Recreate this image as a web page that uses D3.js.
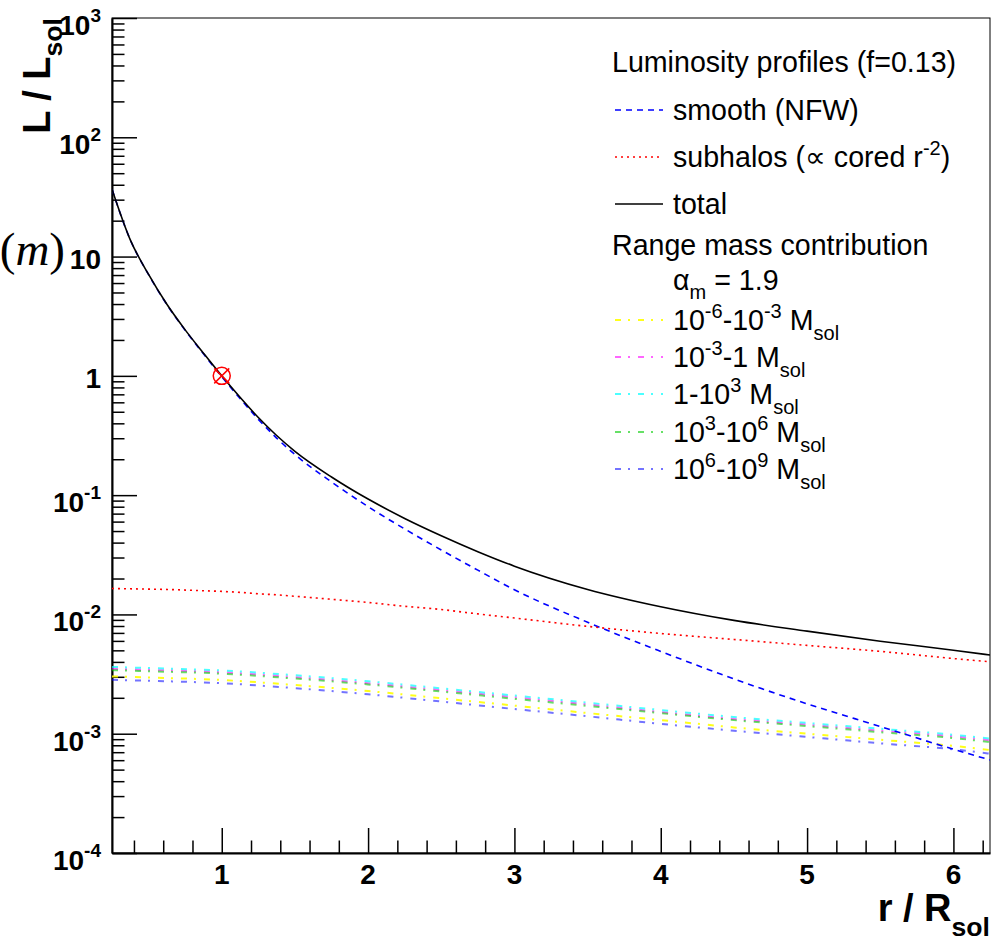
<!DOCTYPE html>
<html>
<head>
<meta charset="utf-8">
<script src="https://cdn.jsdelivr.net/npm/d3@7"></script>
<style>
  body { margin: 0; background: #fff; }
  svg { display: block; font-family: "Liberation Sans", Arial, Helvetica, sans-serif; }
</style>
</head>
<body>
<div id="chart"></div>
<script>
// ---- data ----
const radius     = [0.25, 0.375, 0.5, 0.625, 0.75, 0.875, 1, 1.125, 1.25, 1.375, 1.5, 1.75, 2, 2.25, 2.5, 2.75, 3, 3.5, 4, 4.5, 5, 5.5, 6, 6.25];
const totalLum   = [36.7, 13.8, 7.08, 3.98, 2.43, 1.55, 1.0, 0.661, 0.447, 0.316, 0.233, 0.142, 0.0927, 0.0638, 0.0457, 0.0336, 0.0254, 0.0162, 0.0116, 0.00891, 0.00724, 0.00596, 0.00501, 0.00457];
const smoothLum  = [36.7, 13.8, 7.06, 3.96, 2.41, 1.53, 0.984, 0.646, 0.432, 0.301, 0.219, 0.129, 0.0801, 0.0521, 0.0347, 0.0235, 0.0161, 0.0086, 0.0049, 0.00288, 0.00178, 0.00115, 0.000741, 0.000603];
const subhaloLum = [0.0165, 0.0164, 0.0163, 0.0162, 0.0160, 0.0158, 0.0156, 0.0153, 0.0149, 0.0146, 0.0142, 0.0134, 0.0126, 0.0117, 0.0110, 0.0101, 0.00933, 0.00794, 0.00692, 0.00617, 0.00550, 0.00490, 0.00427, 0.00401];

// mass range contributions
const massRadius = [0.25, 0.5, 1, 1.5, 2, 2.5, 3, 3.5, 4, 4.5, 5, 5.5, 6, 6.25];
const mass6to3 = [0.00302, 0.00296, 0.00282, 0.00256, 0.00228, 0.00198, 0.00172, 0.00149, 0.00130, 0.00113, 0.00100, 0.00089, 0.00079, 0.00073];
const mass3to0 = [0.00350, 0.00343, 0.00327, 0.00298, 0.00265, 0.00232, 0.00202, 0.00176, 0.00152, 0.00133, 0.00119, 0.00106, 0.00095, 0.00088];
const mass0to3 = [0.00363, 0.00355, 0.00339, 0.00309, 0.00275, 0.00240, 0.00209, 0.00182, 0.00158, 0.00138, 0.00123, 0.00110, 0.00098, 0.00091];
const mass3to6 = [0.00341, 0.00334, 0.00319, 0.00290, 0.00259, 0.00226, 0.00196, 0.00171, 0.00149, 0.00130, 0.00116, 0.00103, 0.00092, 0.00085];
const mass6to9 = [0.00283, 0.00278, 0.00265, 0.00241, 0.00214, 0.00186, 0.00161, 0.00140, 0.00121, 0.00106, 0.00094, 0.00083, 0.00074, 0.00068];

const refPoint = [1, 1];

// ticks and labels
const xTicks = [1, 2, 3, 4, 5, 6];
const yTicks = [1e-4, 1e-3, 1e-2, 1e-1, 1, 10, 100, 1000];
const yTickBase = ["10", "10", "10", "10", "1", "10", "10", "10"];
const yTickExp  = ["-4", "-3", "-2", "-1", "", "", "2", "3"];

const legendTitle  = "Luminosity profiles (f=0.13)";
const profileNames = ["smooth (NFW)", "subhalos (\u221d cored r^{-2})", "total"];
const massTitle    = "Range mass contribution";
const massAlpha    = "\u03b1_{m} = 1.9";
const massNames    = ["10^{-6}-10^{-3} M_{sol}", "10^{-3}-1 M_{sol}", "1-10^{3} M_{sol}", "10^{3}-10^{6} M_{sol}", "10^{6}-10^{9} M_{sol}"];

// ---- styles ----
const profileColors = ["#0000ff", "#ff0000", "#000000"];
const profileDash   = ["6,5", "2,4", null];
const massColors    = ["#ffff00", "#ff00ff", "#00ffff", "#00cc00", "#0000ff"];
const massOpacity   = [0.9, 0.6, 0.7, 0.6, 0.55];

// Set the dimensions and margins of the graph
const margin = {top: 18, right: 6, bottom: 90, left: 112},
    width = 996 - margin.left - margin.right,
    height = 943 - margin.top - margin.bottom;

const root = d3.select("#chart")
  .append("svg")
    .attr("width", width + margin.left + margin.right)
    .attr("height", height + margin.top + margin.bottom);

const svg = root.append("g")
    .attr("transform", `translate(${margin.left},${margin.top})`);

// write ROOT-like text with ^{..} and _{..}
function richText(sel, str, size, supScale, supRise, subDrop) {
  const parts = str.split(/(\^\{[^}]*\}|_\{[^}]*\})/).filter(p => p.length);
  let offset = 0;
  parts.forEach(p => {
    let target = 0, fs = size, txt = p;
    if (p.startsWith("^{")) { target = -supRise; fs = size * supScale; txt = p.slice(2, -1); }
    else if (p.startsWith("_{")) { target = subDrop; fs = size * supScale; txt = p.slice(2, -1); }
    sel.append("tspan")
      .attr("dy", target - offset)
      .style("font-size", fs + "px")
      .text(txt);
    offset = target;
  });
}

// Scales
const x = d3.scaleLinear()
  .domain([0.25, 6.25])
  .range([0, width]);

const y = d3.scaleLog()
  .domain([1e-4, 1e3])
  .range([height, 0]);

// Frame
svg.append("rect")
  .attr("x", 0).attr("y", 0)
  .attr("width", width).attr("height", height)
  .attr("fill", "none")
  .attr("stroke", "#000")
  .attr("stroke-width", 1);

// Add X axis (ticks pointing inward)
const xMinor = d3.range(0.4, 6.25, 0.2).filter(v => Math.abs(v - Math.round(v)) > 0.01);
svg.append("g")
  .attr("transform", `translate(0, ${height})`)
  .call(d3.axisBottom(x).tickValues(xMinor).tickSize(-12.5).tickSizeOuter(0).tickFormat(""))
  .call(g => g.selectAll("line").attr("stroke-width", 1.5))
  .call(g => g.select(".domain").attr("stroke-width", 2));
svg.append("g")
  .attr("transform", `translate(0, ${height})`)
  .call(d3.axisBottom(x).tickValues(xTicks).tickSize(-25).tickSizeOuter(0).tickFormat(""))
  .call(g => g.selectAll("line").attr("stroke-width", 1.5))
  .call(g => g.select(".domain").remove());

svg.append("g")
  .selectAll("text")
  .data(xTicks)
  .join("text")
    .attr("x", d => x(d))
    .attr("y", height + 31)
    .attr("text-anchor", "middle")
    .style("font-weight", "bold")
    .style("font-size", "28px")
    .text(d => d);

// Add Y axis
const yMinor = y.ticks().filter(v => !yTicks.some(t => Math.abs(t - v) / t < 1e-6));
svg.append("g")
  .call(d3.axisLeft(y).tickValues(yMinor).tickSize(-12.5).tickSizeOuter(0).tickFormat(""))
  .call(g => g.selectAll("line").attr("stroke-width", 1.5))
  .call(g => g.select(".domain").attr("stroke-width", 2));
svg.append("g")
  .call(d3.axisLeft(y).tickValues(yTicks).tickSize(-25).tickSizeOuter(0).tickFormat(""))
  .call(g => g.selectAll("line").attr("stroke-width", 1.5))
  .call(g => g.select(".domain").remove());

yTicks.forEach((v, i) => {
  const t = svg.append("text")
    .attr("x", -11)
    .attr("y", y(v) + (yTickExp[i] ? 17 : 12.5))
    .attr("text-anchor", "end")
    .style("font-weight", "bold")
    .style("font-size", "28px");
  t.append("tspan").text(yTickBase[i]);
  if (yTickExp[i]) {
    t.append("tspan").attr("dy", -13).style("font-size", "19px").text(yTickExp[i]);
  }
});

// Clip the curves to the frame
svg.append("clipPath").attr("id", "clip")
  .append("rect").attr("width", width).attr("height", height);
const plot = svg.append("g").attr("clip-path", "url(#clip)");

const line = d3.line()
  .x(d => x(d[0]))
  .y(d => y(d[1]))
  .curve(d3.curveMonotoneX);

// Mass range curves
[mass6to3, mass3to0, mass0to3, mass3to6, mass6to9].forEach((s, i) => {
  plot.append("path")
    .datum(massRadius.map((r, j) => [r, s[j]]))
    .attr("fill", "none")
    .attr("stroke", massColors[i])
    .attr("stroke-opacity", massOpacity[i])
    .attr("stroke-width", 2)
    .attr("stroke-dasharray", "6,7,2,8")
    .attr("d", line);
});

// Profiles: smooth, subhalos, total
[smoothLum, subhaloLum, totalLum].forEach((s, i) => {
  plot.append("path")
    .datum(radius.map((r, j) => [r, s[j]]))
    .attr("fill", "none")
    .attr("stroke", profileColors[i])
    .attr("stroke-width", 1.6)
    .attr("stroke-dasharray", profileDash[i])
    .attr("d", line);
});

// Reference marker
const mk = svg.append("g")
  .attr("transform", `translate(${x(refPoint[0])},${y(refPoint[1])})`)
  .attr("stroke", "#ff0000")
  .attr("stroke-width", 1.5)
  .attr("fill", "none");
mk.append("circle").attr("r", 8.5);
mk.append("line").attr("x1", -7.5).attr("y1", -7.5).attr("x2", 7.5).attr("y2", 7.5);
mk.append("line").attr("x1", -7.5).attr("y1", 7.5).attr("x2", 7.5).attr("y2", -7.5);

// Legend
const fsLeg = 28.6;
const leg = root.append("g").style("font-size", fsLeg + "px");
leg.append("text").attr("x", 612).attr("y", 72).text(legendTitle);

const profileRows = [110, 157, 204];
profileNames.forEach((name, i) => {
  leg.append("line")
    .attr("x1", 615).attr("x2", 663)
    .attr("y1", profileRows[i]).attr("y2", profileRows[i])
    .attr("stroke", profileColors[i])
    .attr("stroke-width", 1.6)
    .attr("stroke-dasharray", profileDash[i]);
  const t = leg.append("text").attr("x", 673).attr("y", profileRows[i] + 10);
  richText(t, name, fsLeg, 0.7, 12, 10);
});

leg.append("text").attr("x", 612).attr("y", 255).text(massTitle);
richText(leg.append("text").attr("x", 673).attr("y", 290), massAlpha, fsLeg, 0.7, 12, 9);

const massRows = [320, 357, 394, 432, 469];
massNames.forEach((name, i) => {
  leg.append("line")
    .attr("x1", 615).attr("x2", 663)
    .attr("y1", massRows[i]).attr("y2", massRows[i])
    .attr("stroke", massColors[i])
    .attr("stroke-opacity", massOpacity[i])
    .attr("stroke-width", 2)
    .attr("stroke-dasharray", "6,7,2,8");
  const t = leg.append("text").attr("x", 673).attr("y", massRows[i] + 10);
  richText(t, name, fsLeg, 0.7, 12, 10);
});

// Add X axis label
const xl = root.append("text")
  .attr("x", 990)
  .attr("y", 921)
  .attr("text-anchor", "end")
  .style("font-weight", "bold")
  .style("font-size", "38px");
richText(xl, "r / R_{sol}", 38, 0.7, 12, 15);

// Add Y axis label
const yl = root.append("text")
  .attr("transform", "translate(50,18) rotate(-90)")
  .attr("text-anchor", "end")
  .style("font-weight", "bold")
  .style("font-size", "38px");
richText(yl, "L / L_{sol}", 38, 0.7, 12, 12);

// leftover label at the left margin
const ml = root.append("text")
  .attr("x", 65)
  .attr("y", 265)
  .attr("text-anchor", "end")
  .style("font-family", "'Liberation Serif', 'DejaVu Serif', serif")
  .style("font-size", "47px");
ml.append("tspan").text("(");
ml.append("tspan").style("font-style", "italic").text("m");
ml.append("tspan").text(")");
</script>
</body>
</html>
